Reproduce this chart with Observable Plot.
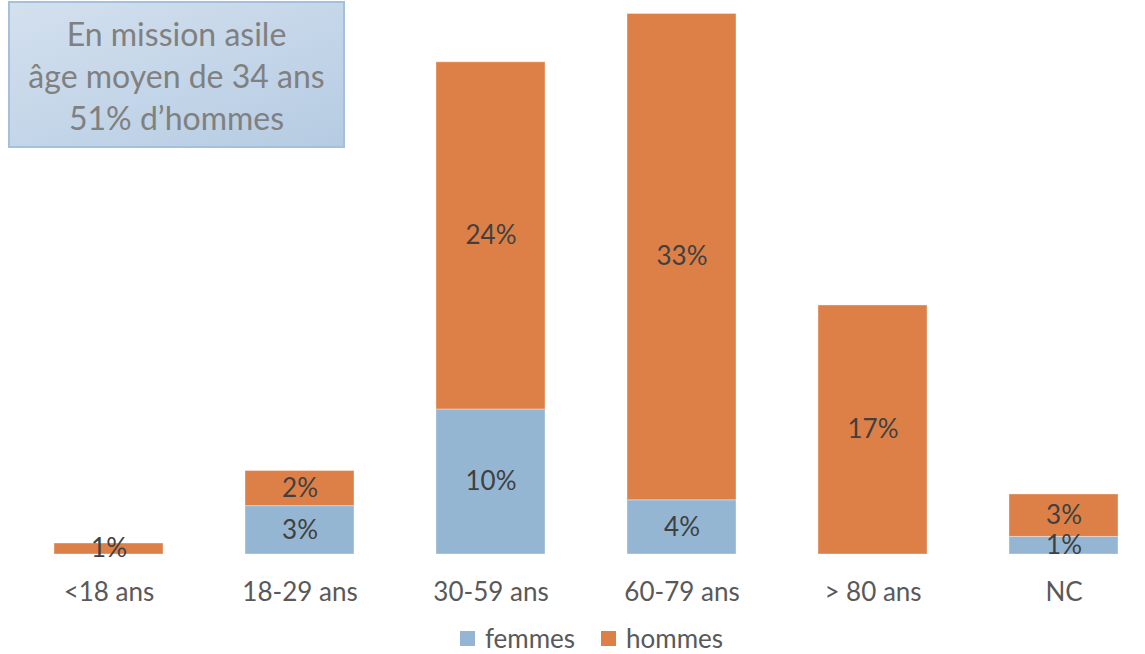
<!DOCTYPE html>
<html>
<head>
<meta charset="utf-8">
<script src="https://cdn.jsdelivr.net/npm/d3@7"></script>
<script src="https://cdn.jsdelivr.net/npm/@observablehq/plot@0.6"></script>
<style>
  html, body { margin: 0; padding: 0; background: #fff; }
  body { width: 1145px; position: relative; font-family: Lato, "Open Sans", sans-serif; }
  #chart { height: 622px; }
  #box {
    position: absolute; left: 8px; top: 1px; width: 337px; height: 147px;
    background: linear-gradient(160deg, #d3e0ee 0%, #c3d5e8 55%, #b6cbe2 100%);
    border: 2px solid #a3c0dc; box-sizing: border-box;
    color: #808080; font-size: 32px; line-height: 42px; text-align: center;
    padding-top: 10px; white-space: nowrap;
  }
  #legend {
    width: 1145px; height: 32px; line-height: 32px;
    display: flex; justify-content: center; align-items: center; gap: 26px; font-size: 26px; color: #595959;
    padding-left: 38px; box-sizing: border-box;
  }
  #legend span { display: inline-flex; align-items: center; }
  #legend i { display: inline-block; width: 15px; height: 15px; margin-right: 10px; }
</style>
</head>
<body>
<div id="chart"></div>
<div id="legend"></div>
<div id="box">En mission asile<br>âge moyen de 34 ans<br>51% d’hommes</div>
<script>
const categories = ["<18 ans", "18-29 ans", "30-59 ans", "60-79 ans", "> 80 ans", "NC"];
const series = ["femmes", "hommes"];
const femmes = [0, 3.3, 9.9, 3.7, 0, 1.2];
const hommes = [0.75, 2.4, 23.7, 33.2, 17.0, 2.9];
const colors = ["#94b6d3", "#dd8048"];

const data = [];
categories.forEach((c, i) => {
  data.push({cat: c, serie: "femmes", value: femmes[i]});
  data.push({cat: c, serie: "hommes", value: hommes[i]});
});
const labelData = data.filter(d => d.value > 0);

const chart = Plot.plot({
  width: 1145,
  height: 622,
  marginTop: 12,
  marginBottom: 68,
  marginLeft: 13,
  marginRight: 0,
  style: {fontFamily: "Lato, 'Open Sans', sans-serif", background: "transparent"},
  x: {domain: categories, range: [13, 1159], paddingInner: 0.43, paddingOuter: 0.215, label: null},
  y: {domain: [0, 37], axis: null},
  color: {domain: series, range: colors},
  marks: [
    Plot.barY(data, {x: "cat", y: "value", fill: "serie", order: series, stroke: "#ffffff", strokeOpacity: 0.35, strokeWidth: 1}),
    Plot.ruleY([0], {x1: 13, x2: 1145, stroke: "#d9d9d9", strokeWidth: 1.5}),
    Plot.text(labelData, Plot.stackY({x: "cat", y: "value", z: "serie", order: series,
      text: d => Math.round(d.value) + "%", fill: "#404040", fontSize: 26})),
    Plot.axisX({tickSize: 0, tickPadding: 28, fontSize: 26, color: "#595959", label: null})
  ]
});
document.getElementById("chart").appendChild(chart);

const legend = document.getElementById("legend");
series.forEach((s, i) => {
  const span = document.createElement("span");
  const sw = document.createElement("i");
  sw.style.background = colors[i];
  span.appendChild(sw);
  span.appendChild(document.createTextNode(s));
  legend.appendChild(span);
});
</script>
</body>
</html>
